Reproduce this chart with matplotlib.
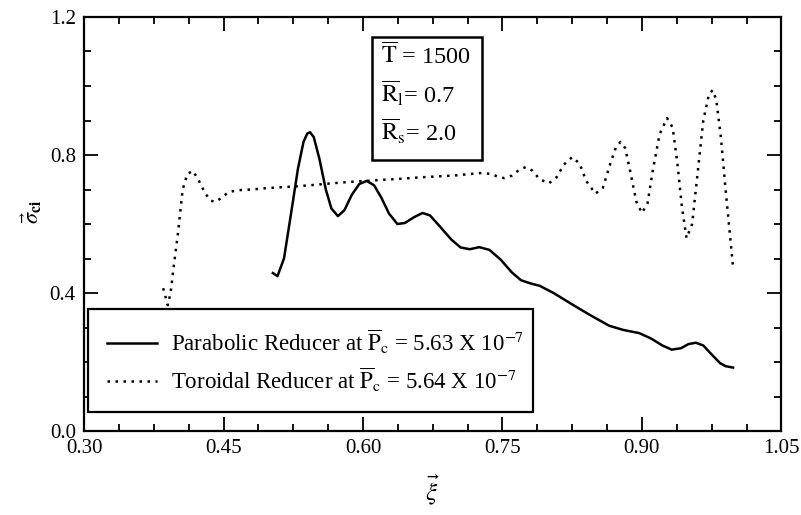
import matplotlib
matplotlib.use("Agg")
import matplotlib.pyplot as plt
from matplotlib.patches import Rectangle
from matplotlib.ticker import MultipleLocator

plt.rcParams['font.family'] = ['Liberation Serif', 'DejaVu Serif']
plt.rcParams['mathtext.fontset'] = 'stix'

# Parabolic reducer (solid curve)
parab_xi = [0.503, 0.508, 0.515, 0.522, 0.530, 0.536, 0.540, 0.543, 0.547, 0.553,
            0.560, 0.566, 0.573, 0.580, 0.588, 0.596, 0.604, 0.612, 0.620, 0.628,
            0.637, 0.645, 0.655, 0.664, 0.672, 0.682, 0.695, 0.705, 0.715, 0.725,
            0.736, 0.748, 0.760, 0.770, 0.780, 0.790, 0.805, 0.825, 0.845, 0.865,
            0.880, 0.897, 0.910, 0.922, 0.932, 0.942, 0.950, 0.958, 0.966, 0.975,
            0.984, 0.990, 0.998]
parab_sigma = [0.458, 0.449, 0.500, 0.620, 0.760, 0.838, 0.862, 0.866, 0.852, 0.790,
               0.700, 0.645, 0.623, 0.640, 0.685, 0.716, 0.725, 0.712, 0.675, 0.630,
               0.600, 0.603, 0.620, 0.632, 0.625, 0.595, 0.555, 0.532, 0.527, 0.533,
               0.525, 0.497, 0.460, 0.437, 0.428, 0.421, 0.400, 0.367, 0.335, 0.305,
               0.293, 0.284, 0.268, 0.248, 0.236, 0.240, 0.252, 0.256, 0.248, 0.222,
               0.197, 0.188, 0.184]

# Toroidal reducer (dotted curve)
toro_xi = [0.385, 0.388, 0.390, 0.393, 0.397, 0.401, 0.406, 0.411, 0.417, 0.423,
           0.430, 0.436, 0.441, 0.448, 0.455, 0.465, 0.480, 0.496, 0.515, 0.532,
           0.550, 0.567, 0.585, 0.604, 0.620, 0.640, 0.660, 0.680, 0.700, 0.715,
           0.728, 0.738, 0.745, 0.752, 0.760, 0.768, 0.775, 0.782, 0.790, 0.800,
           0.808, 0.816, 0.825, 0.833, 0.840, 0.850, 0.858, 0.866, 0.872, 0.877,
           0.882, 0.888, 0.894, 0.900, 0.906, 0.912, 0.919, 0.927, 0.933, 0.938,
           0.943, 0.948, 0.954, 0.960, 0.966, 0.972, 0.976, 0.980, 0.985, 0.990,
           0.995, 0.998]
toro_sigma = [0.414, 0.385, 0.365, 0.400, 0.490, 0.574, 0.700, 0.745, 0.754, 0.728,
              0.690, 0.668, 0.664, 0.676, 0.692, 0.698, 0.700, 0.704, 0.707, 0.710,
              0.714, 0.718, 0.722, 0.725, 0.728, 0.731, 0.735, 0.738, 0.741, 0.745,
              0.748, 0.745, 0.737, 0.733, 0.740, 0.757, 0.765, 0.755, 0.730, 0.718,
              0.735, 0.772, 0.794, 0.775, 0.725, 0.688, 0.705, 0.775, 0.822, 0.838,
              0.820, 0.745, 0.665, 0.632, 0.660, 0.760, 0.860, 0.907, 0.880, 0.780,
              0.650, 0.559, 0.600, 0.750, 0.900, 0.975, 0.988, 0.960, 0.850, 0.700,
              0.560, 0.475]

x_ticks = [0.30, 0.45, 0.60, 0.75, 0.90, 1.05]
y_ticks = [0.0, 0.4, 0.8, 1.2]

parab_label = r"Parabolic Reducer at $\overline{\mathrm{P}}_{\mathrm{c}}$ = 5.63 X 10$^{-7}$"
toro_label = r"Toroidal Reducer at $\overline{\mathrm{P}}_{\mathrm{c}}$ = 5.64 X 10$^{-7}$"
param_lines = [r"$\overline{\mathrm{T}}$ = 1500",
               r"$\overline{\mathrm{R}}_{\mathrm{l}}$= 0.7",
               r"$\overline{\mathrm{R}}_{\mathrm{s}}$= 2.0"]

fig = plt.figure(figsize=(8.01, 5.15), dpi=100)
ax = fig.add_axes([0.105, 0.163, 0.8705, 0.804])

ax.plot(parab_xi, parab_sigma, color='black', linewidth=1.8, label=parab_label)
ax.plot(toro_xi, toro_sigma, color='black', linewidth=1.8,
        linestyle=(0, (1, 2.2)), label=toro_label)

ax.set_xlim(0.30, 1.05)
ax.set_ylim(0.0, 1.2)
ax.set_xticks(x_ticks)
ax.set_yticks(y_ticks)
ax.set_xticklabels([f"{v:.2f}" for v in x_ticks])
ax.set_yticklabels([f"{v:.1f}" for v in y_ticks])
ax.xaxis.set_minor_locator(MultipleLocator(0.0375))
ax.yaxis.set_minor_locator(MultipleLocator(0.1))
ax.tick_params(which='both', direction='in', top=True, right=True,
               labelsize=15, width=1.3)
ax.tick_params(which='major', length=10, pad=6)
ax.tick_params(which='minor', length=5)
for s in ax.spines.values():
    s.set_linewidth(1.6)

ax.set_xlabel(r"$\vec{\xi}$", fontsize=18, labelpad=10)
ax.set_ylabel(r"$\vec{\sigma}_{\mathbf{ci}}$", fontsize=16)
ax.yaxis.set_label_coords(-0.058, 0.53)

# parameter box
ax.add_patch(Rectangle((0.413, 0.655), 0.157, 0.297, transform=ax.transAxes,
                       fill=False, edgecolor='black', linewidth=1.8, zorder=5))
for i, t in enumerate(param_lines):
    ax.text(0.426, 0.905 - i * 0.09, t, transform=ax.transAxes, fontsize=17.5,
            va='center', ha='left')

leg = ax.legend(loc='lower left', bbox_to_anchor=(0.006, 0.046, 0.638, 0.246),
                mode='expand', fontsize=16.5, handlelength=2.2, handletextpad=0.6,
                frameon=True, fancybox=False, edgecolor='black', framealpha=1,
                borderaxespad=0, borderpad=0.8, labelspacing=0.4)
leg.get_frame().set_linewidth(1.6)

fig.savefig("out.png", dpi=100)
